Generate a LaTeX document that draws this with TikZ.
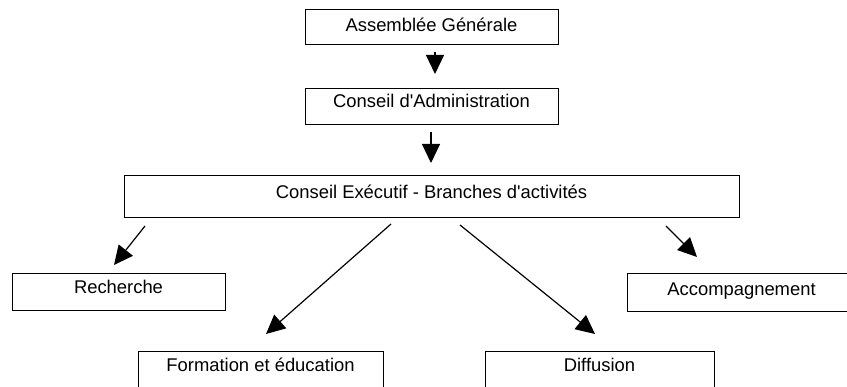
\documentclass[tikz,border=0pt]{standalone}
\usepackage{fontspec}
\setmainfont{Liberation Sans}
\usetikzlibrary{positioning, arrows.meta, calc}

\begin{document}
\begin{tikzpicture}[
		x=1pt, y=-1pt,
		box/.style={draw, rectangle, anchor=north, line width=1pt, inner sep=0pt, font=\fontsize{18.4}{22}\selectfont},
		arrow/.style={-{Triangle[length=19pt, width=18pt]}, line width=1.2pt}
		]
		\useasboundingbox (0,0) rectangle (847,387);
		\clip (0,0) rectangle (847,387);
		% Boxes
		\node[box, minimum width=253pt, text height=22pt, text depth=13pt] (ag) at (431.5,9) {Assemblée Générale};
		\node[box, minimum width=253pt, text height=19pt, text depth=17pt] (ca) at (431.5,88) {Conseil d\textquotesingle Administration};
		\node[box, minimum width=615pt, text height=23pt, text depth=19pt] (ce) at (431.5,175) {Conseil Exécutif - Branches d\textquotesingle activités};
		\node[box, minimum width=213pt, text height=20pt, text depth=17pt] (rech) at (118.5,273) {Recherche};
		\node[box, minimum width=229pt, text height=22pt, text depth=16pt] (acc) at (741.5,273) {Accompagnement};
		\node[box, minimum width=245pt, text height=20pt, text depth=40pt] (form) at (260.5,351) {Formation et éducation};
		\node[box, minimum width=229pt, text height=20pt, text depth=40pt] (diff) at (599.5,351) {Diffusion};
		% Arrow ends
		\coordinate (ag-out) at (435,52);
		\coordinate (ca-in) at (435,74);
		\coordinate (ca-out) at (431,132);
		\coordinate (ce-in) at (431,163);
		\coordinate (rech-from) at (145,226);
		\coordinate (rech-in) at (114,265);
		\coordinate (form-from) at (391,224);
		\coordinate (form-in) at (266,334);
		\coordinate (diff-from) at (460,225);
		\coordinate (diff-in) at (595,334);
		\coordinate (acc-from) at (666,226);
		\coordinate (acc-in) at (697,257);
		% Arrows
		\draw[arrow] (ag-out) -- (ca-in);
		\draw[arrow] (ca-out) -- (ce-in);
		\draw[arrow] (rech-from) -- (rech-in);
		\draw[arrow] (form-from) -- (form-in);
		\draw[arrow] (diff-from) -- (diff-in);
		\draw[arrow] (acc-from) -- (acc-in);
	\end{tikzpicture}
\end{document}
